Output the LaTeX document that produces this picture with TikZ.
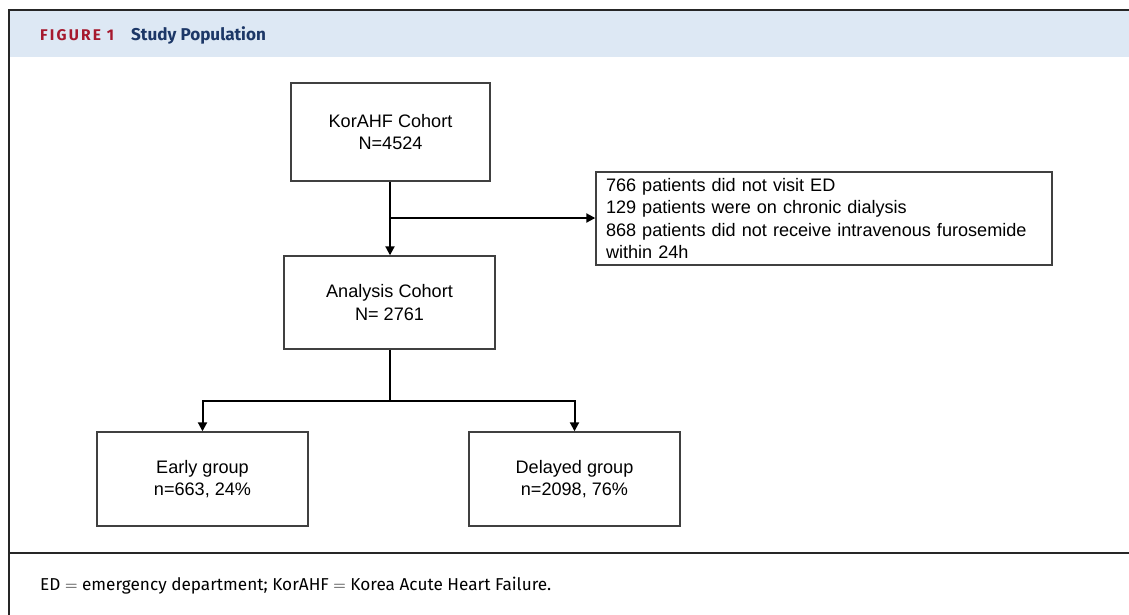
\documentclass[tikz,border=0pt]{standalone}
\usepackage{fontspec}
\setmainfont{Liberation Sans}
\newfontfamily\jfont{Fira Sans}
\newfontfamily\jfontcaps[LetterSpace=14]{Fira Sans}
\usetikzlibrary{arrows.meta}
\definecolor{hdrblue}{HTML}{DDE8F4}
\definecolor{figred}{HTML}{A6192E}
\definecolor{navy}{HTML}{1C3767}
\definecolor{boxgray}{HTML}{404040}
\tikzset{
  flowbox/.style={draw=boxgray, line width=1.4pt, fill=white, align=center,
    font=\fontsize{18.1}{22.4}\selectfont, inner sep=0pt},
  conn/.style={draw=black, line width=2pt},
  arr/.style={conn, -{Triangle[length=9pt,width=9pt]}},
}
\begin{document}
\begin{tikzpicture}[x=1pt,y=-1pt]
\useasboundingbox (0,0) rectangle (1129,615);
% frame
\fill[hdrblue] (10,11) rectangle (1129,57);
\draw[line width=2pt, black!85] (1129,10) -- (9,10) -- (9,615);
\draw[line width=2pt, black!85] (9,553) -- (1129,553);
% title
\node[anchor=base west, inner sep=0pt, text=figred, font=\jfontcaps\bfseries\fontsize{15.5}{18}\selectfont] (fig) at (40,41) {FIGURE 1};
\node[anchor=base west, inner sep=0pt, text=navy, font=\jfont\bfseries\fontsize{17.1}{20}\selectfont] (ttl) at (131,41) {Study Population};
% boxes
\node[flowbox, minimum width=199pt, minimum height=98pt] (kor) at (390.5,132) {KorAHF Cohort\\N=4524};
\node[flowbox, minimum width=211pt, minimum height=93pt] (ana) at (389.5,302.5) {Analysis Cohort\\N= 2761};
\node[flowbox, minimum width=456pt, minimum height=93pt, text width=436pt, align=left, inner xsep=10pt] (exc) at (824,218.5)
  {766 patients did not visit ED\\129 patients were on chronic dialysis\\868 patients did not receive intravenous furosemide\\within 24h};
\node[flowbox, minimum width=211pt, minimum height=94pt] (early) at (202.5,479) {Early group\\n=663, 24\%};
\node[flowbox, minimum width=211pt, minimum height=94pt] (late) at (574.5,479) {Delayed group\\n=2098, 76\%};
% connectors
\coordinate (br1) at (390,218);
\coordinate (br2) at (390,401);
\draw[arr] (kor.south -| br1) -- (ana.north -| br1);
\draw[arr] (br1) -- (exc.west |- br1);
\draw[conn] (ana.south -| br2) -- (br2);
\draw[arr] (br2) -| (early.north);
\draw[arr] (br2) -| (late.north);
% footer
\node[anchor=base west, inner sep=0pt, font=\jfont\fontsize{17.2}{20}\selectfont] (foot) at (40,590) {ED $=$ emergency department; KorAHF $=$ Korea Acute Heart Failure.};
\end{tikzpicture}
\end{document}
